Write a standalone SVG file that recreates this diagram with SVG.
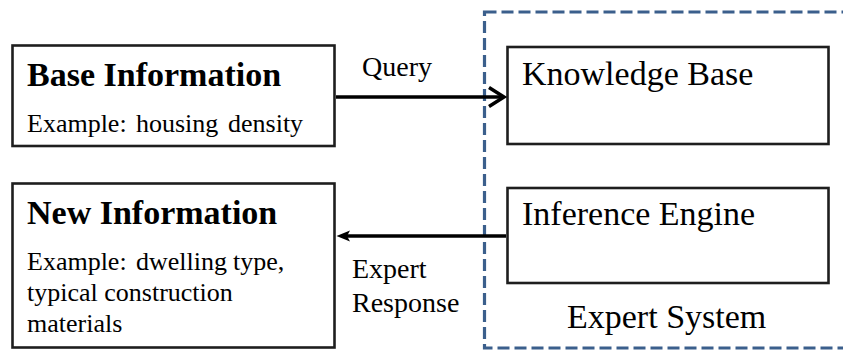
<svg xmlns="http://www.w3.org/2000/svg" width="843" height="350" viewBox="0 0 843 350">
<style>
.box{fill:#fff;stroke:#1e1e1e;stroke-width:2.6}
.title{font-size:34px;font-weight:bold}
.ex{font-size:26px}
.big{font-size:34px}
.lbl{font-size:28px}
.conn{stroke:#000;stroke-width:3.5;fill:none}
.dash{fill:none;stroke:#3b5f8c;stroke-width:3.2;stroke-dasharray:12 5}
</style>
<rect width="843" height="350" fill="#fff"/>
<g font-family="Liberation Serif, Tinos, Times New Roman, DejaVu Serif, serif" fill="#000">
<g id="expert-system">
<rect class="dash" x="484.5" y="12" width="380" height="336"/>
<text class="big" x="567" y="328">Expert System</text>
</g>
<g id="base-information">
<rect class="box" x="12.5" y="45.5" width="322" height="100.5"/>
<text class="title" x="27" y="86">Base Information</text>
<text class="ex" y="132"><tspan x="27">Example:</tspan><tspan x="136">housing</tspan><tspan x="228">density</tspan></text>
</g>
<g id="new-information">
<rect class="box" x="12.5" y="183.5" width="322" height="164"/>
<text class="title" x="27" y="224">New Information</text>
<text class="ex" y="270"><tspan x="27">Example:</tspan><tspan x="136">dwelling</tspan><tspan x="233">type,</tspan></text>
<text class="ex" x="27" y="301">typical construction</text>
<text class="ex" x="27" y="332">materials</text>
</g>
<g id="knowledge-base">
<rect class="box" x="507.5" y="47" width="321" height="97"/>
<text class="big" x="522" y="85">Knowledge Base</text>
</g>
<g id="inference-engine">
<rect class="box" x="507.5" y="188" width="321" height="95"/>
<text class="big" x="522" y="225">Inference Engine</text>
</g>
<g id="connectors">
<line class="conn" x1="336" y1="97" x2="503" y2="97"/>
<polyline class="conn" points="489,87.5 504,97 489,106.5" stroke-width="3.2"/>
<text class="lbl" x="362" y="76">Query</text>
<line class="conn" x1="506" y1="236" x2="345" y2="236" stroke-width="3"/>
<polygon points="336.5,236 350,230.5 347,236 350,241.5" fill="#000"/>
<text class="lbl" x="352" y="278">Expert</text>
<text class="lbl" x="352" y="312">Response</text>
</g>
</g>
</svg>
